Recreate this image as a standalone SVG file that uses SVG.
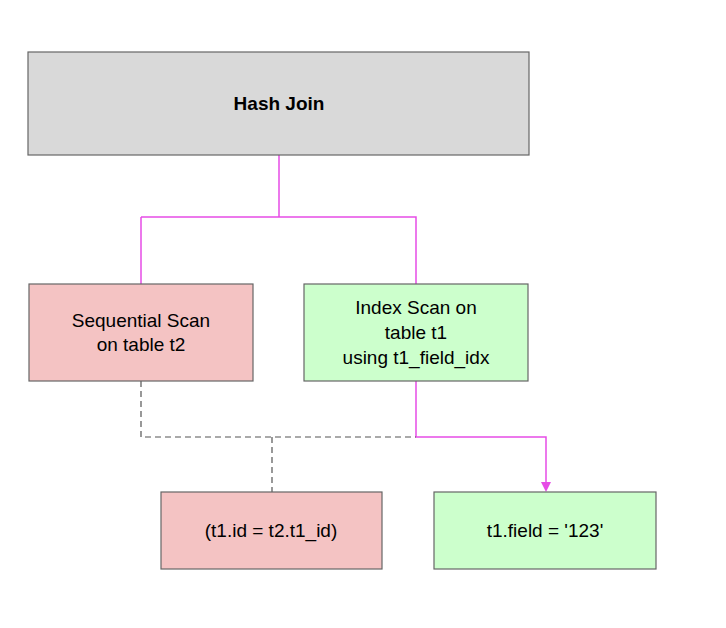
<svg xmlns="http://www.w3.org/2000/svg" width="726" height="628" viewBox="0 0 726 628">
<style>
text{font-family:"Liberation Sans",Arial,sans-serif;font-size:19px;fill:#000;text-anchor:middle}
.b{stroke:#666;stroke-width:1.2}
.m{fill:none;stroke:#e64ce6;stroke-width:1.5}
.d{fill:none;stroke:#555;stroke-width:1.2;stroke-dasharray:6 4}
</style>
<defs><marker id="a" markerWidth="10" markerHeight="10" refX="8" refY="5" orient="auto" markerUnits="userSpaceOnUse"><path d="M0,0 L10,5 L0,10 Z" fill="#e64ce6"/></marker></defs>
<rect width="726" height="628" fill="#fff"/>
<g id="connectors">
<path class="m" d="M279,155 V217 H416 V284 M141,217 H279 M141,217 V284"/>
<path class="m" d="M416,381 V437 H546 V490" marker-end="url(#a)"/>
<path class="d" d="M141,381 V437 H416 M272,437 V492"/>
</g>
<g id="hashjoin"><rect class="b" x="28" y="52" width="501" height="103" fill="#d9d9d9"/><text x="279" y="110" font-weight="bold">Hash Join</text></g>
<g id="seqscan"><rect class="b" x="29" y="284" width="224" height="97" fill="#f4c3c3"/><text x="141" y="327">Sequential Scan</text><text x="141" y="351">on table t2</text></g>
<g id="idxscan"><rect class="b" x="304" y="284" width="224" height="97" fill="#ccffcc"/><text x="416" y="314">Index Scan on</text><text x="416" y="339">table t1</text><text x="416" y="364">using t1_field_idx</text></g>
<g id="cond1"><rect class="b" x="161" y="492" width="221" height="77" fill="#f4c3c3"/><text x="271" y="537">(t1.id = t2.t1_id)</text></g>
<g id="cond2"><rect class="b" x="434" y="492" width="222" height="77" fill="#ccffcc"/><text x="545" y="537">t1.field = '123'</text></g>
</svg>
